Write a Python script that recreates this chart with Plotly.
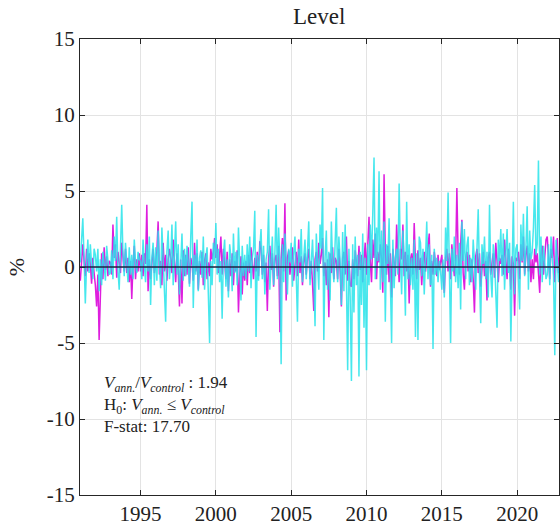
import plotly.graph_objects as go

# ---- data (monthly, Jan 1991 onward) ----
start_year = 1991
magenta = [
    -0.9, 0.8, 1.5, 0.4, -0.6, 1.2, -0.3, 0.9, 0.2, -1.1, 0.6, -0.4,   # 1991
    -1.2, -2.6, -0.5, -4.8, -1.5, 0.9, -0.8, 1.3, -0.2, 0.7, -0.6, 0.4,  # 1992
    0.3, -0.5, 2.8, 0.6, 1.5, -0.7, 1.0, 0.2, -0.4, 1.6, 0.5, -0.3,     # 1993
    1.2, -0.4, 0.6, -1.0, 0.4, -2.1, 0.2, 1.4, -0.8, 0.5, -0.3, 0.9,    # 1994
    -0.3, 0.8, -0.6, 0.9, 0.2, 4.1, -1.6, 0.5, -0.8, 0.3, 1.2, -0.4,    # 1995
    0.2, 1.0, 3.0, -0.5, 0.4, -1.2, 1.6, -0.3, 0.8, -0.9, 0.5, 1.2,     # 1996
    0.6, -0.4, 1.8, 0.3, -1.0, 0.9, -0.2, -2.6, 0.5, -2.4, 1.1, -0.6,   # 1997
    0.8, -0.5, 1.3, -1.1, 0.6, 0.2, -0.9, 1.6, -0.3, 0.9, -1.5, 0.4,    # 1998
    -0.5, 1.0, -1.2, 0.4, 0.9, -0.8, 0.3, -0.6, 1.2, 0.5, 1.0, 1.9,     # 1999
    0.6, 1.5, -0.4, 0.8, 2.0, -0.5, 1.2, 0.3, -0.8, 1.0, -1.6, 0.5,     # 2000
    -0.6, 0.9, -1.2, 0.4, -0.3, 1.1, -3.0, -0.5, 0.7, -1.8, 0.3, -0.9,  # 2001
    0.4, -1.2, 0.8, -0.4, 1.3, 0.2, -0.8, 0.6, -0.3, 1.0, -0.6, 1.7,    # 2002
    1.2, -0.5, 0.8, -1.0, 0.3, -2.9, 0.6, 1.4, -0.2, 0.9, -1.3, 0.5,    # 2003
    0.8, -0.6, 1.4, -4.3, 0.5, 1.9, -0.3, 4.2, -2.2, 0.6, 1.1, -0.5,    # 2004
    0.4, 1.3, -0.9, 0.2, 1.0, -0.6, 1.8, -0.4, 0.7, -1.2, 0.3, 0.9,     # 2005
    -0.5, 0.6, 1.2, -0.8, 0.4, -1.1, -2.9, 0.5, 1.0, -0.3, 1.6, 0.2,    # 2006
    0.8, 1.9, -0.6, 0.3, -1.2, 0.5, -3.3, 0.9, -0.4, 1.3, -0.8, 0.6,    # 2007
    0.4, -0.8, 1.2, -0.3, -2.6, 0.6, 1.0, -0.5, 2.0, -0.9, 0.4, -1.2,   # 2008
    -1.3, 0.5, -0.8, 1.1, 0.3, -0.6, 1.4, -0.2, 0.8, -1.0, 0.5, 1.6,    # 2009
    -0.5, 1.2, 3.3, 0.4, -1.0, 1.8, 0.6, 2.2, -0.8, 1.0, 0.3, 1.5,      # 2010
    0.5, -1.7, 6.1, 0.8, -0.5, 1.4, -1.0, 0.9, -2.0, 1.2, 0.3, -0.6,    # 2011
    2.8, 0.4, -1.0, 1.2, 0.5, 2.8, -0.6, 1.0, -0.3, 0.8, -2.4, 0.5,     # 2012
    0.9, -0.5, 2.9, 0.3, -0.8, 1.1, -0.2, 0.6, -1.2, 0.4, 1.0, -0.3,    # 2013
    0.5, 1.2, 2.2, -1.3, 0.4, -0.5, 1.0, 0.2, -0.6, 0.8, -0.2, 0.3,     # 2014
    0.8, -0.5, -1.7, 0.6, 1.2, -0.3, 0.9, -0.8, 1.5, 0.2, -0.6, 0.4,    # 2015
    5.2, 0.8, -0.5, 1.5, 3.1, -0.4, -1.5, 0.6, 1.0, -0.3, 0.8, -1.0,    # 2016
    0.5, -0.8, -3.0, 0.7, 1.2, -0.4, 0.9, -1.3, 0.3, 1.0, -0.6, 0.4,    # 2017
    -2.2, 0.6, 1.0, -0.5, 0.3, 0.9, -0.7, 1.6, 0.4, -1.0, 0.6, 0.2,     # 2018
    0.8, -0.5, 1.8, 0.3, -0.8, 1.2, 0.5, -1.5, 0.7, 0.2, -3.2, 0.6,     # 2019
    0.4, 1.0, -0.8, 1.5, 0.3, 2.0, -0.5, 0.8, 1.4, -0.3, 0.9, -1.0,     # 2020
    0.5, -0.8, 1.2, 0.3, 0.9, -0.4, -1.7, 0.8, 1.4, -0.5, 0.6, 1.8,     # 2021
    2.0, 0.4, -0.8, 1.2, 0.6, 2.0, -1.0, 0.5, 1.9, -0.4, 0.8, 0.2,      # 2022
]
cyan = [
    0.3, 1.5, 3.2, 0.6, -2.4, 0.2, 1.8, -0.4, 1.5, 0.1, -0.8, 1.2,      # 1991
    0.8, -0.3, 1.2, -1.6, 0.5, -1.2, 1.0, 0.2, -0.9, 1.4, 0.3, -0.5,    # 1992
    -0.4, 1.1, -0.8, 2.0, 0.4, 3.3, -0.2, -1.5, 1.2, 4.1, 0.8, -0.6,    # 1993
    1.6, 0.3, -1.0, 1.3, -0.5, 0.8, -0.8, 1.8, 0.2, -0.4, 1.0, 0.5,     # 1994
    0.4, -0.8, 1.8, 0.2, -1.0, 1.5, -0.3, 2.0, -2.5, 0.6, 1.6, -1.2,    # 1995
    1.3, -0.9, 2.4, 0.2, -1.4, 2.6, 0.5, -0.6, -3.6, 1.0, 2.4, -0.8,    # 1996
    0.3, 2.8, -1.2, 0.8, 3.0, -0.5, 1.5, -1.8, 0.6, 2.2, -0.9, 1.2,     # 1997
    -0.6, 1.4, 0.2, -1.3, 2.0, 4.3, -2.7, 0.8, -0.5, 1.8, -1.6, 0.6,    # 1998
    1.1, -0.7, 2.0, -1.5, 0.6, 1.3, -1.8, -5.0, 0.4, -1.2, 1.6, 0.2,    # 1999
    2.9, -0.5, 1.2, -1.0, 0.4, -3.4, 0.8, 1.8, -1.3, 0.5, -2.0, 1.5,    # 2000
    0.6, -1.6, 2.2, -0.4, 1.0, -1.2, 2.6, 0.3, -2.2, 1.4, -0.6, 0.8,    # 2001
    -0.8, 1.5, -0.3, 2.0, -1.4, 0.6, 1.2, 3.7, -4.6, 0.8, -0.9, 1.3,    # 2002
    2.5, -0.8, 1.4, -1.8, 0.5, 1.0, 3.8, -1.5, 0.4, 2.0, -1.2, 0.8,     # 2003
    4.1, -0.8, 2.6, 0.3, -6.4, 1.5, -1.0, 2.2, 0.5, -1.8, 1.2, 0.3,     # 2004
    1.6, -1.3, 0.8, 2.0, -0.5, -3.6, 1.2, 0.3, 2.5, -1.0, 0.6, 1.8,     # 2005
    -0.8, 1.5, 3.0, -1.2, 0.4, 1.8, -0.5, -3.9, 2.2, 0.6, -1.5, 2.8,    # 2006
    1.2, 5.2, -4.8, 0.6, 2.4, -1.5, 1.0, -2.2, 3.0, 0.2, -1.0, 1.6,     # 2007
    3.9, -1.0, 2.0, 0.4, -2.5, 2.3, -1.6, 2.8, -0.8, -6.8, 1.2, -2.0,   # 2008
    -7.5, 1.5, -3.0, 2.0, -1.2, 0.8, -7.2, 1.0, -2.5, 2.2, -4.0, 0.6,   # 2009
    -6.8, 1.5, -1.2, 2.8, 0.5, 3.5, 7.2, -0.8, 2.6, 0.4, 6.3, -1.5,     # 2010
    2.4, -1.0, 3.0, -3.6, 1.5, 0.2, 3.2, -0.8, -5.0, 1.8, -1.4, 0.6,    # 2011
    1.2, -0.5, 5.5, 0.8, -1.8, 2.4, 0.5, -3.2, 4.3, -0.8, 1.5, -1.2,    # 2012
    0.6, -1.5, 1.8, -4.6, 0.9, -4.8, 2.0, 1.6, -0.6, 1.2, -1.8, 0.5,    # 2013
    3.0, -0.8, 1.5, -1.2, 0.8, -5.4, 1.2, -0.5, 0.6, -1.0, 0.4, -0.3,   # 2014
    -1.5, 0.5, -2.0, 2.6, 0.4, 4.9, -0.6, -5.0, 1.2, -0.3, 2.0, -1.0,   # 2015
    0.8, -1.4, 1.6, -2.8, 3.0, 0.4, 2.5, -0.8, 1.4, 2.0, -1.2, 0.6,     # 2016
    -1.0, 1.8, 0.3, -1.5, 1.2, 3.8, -0.5, -3.7, 1.5, 0.2, 2.0, -0.8,    # 2017
    1.0, -2.0, 4.1, -0.5, -2.0, 1.5, 0.6, -1.2, -4.0, 1.8, 0.4, 2.5,    # 2018
    -0.6, 2.2, -1.5, 0.8, 2.5, -0.4, 1.6, -4.9, 0.5, 4.3, -1.8, 1.2,    # 2019
    1.5, -1.0, -2.8, 2.8, 0.4, 3.5, -0.6, 1.2, 4.0, -1.5, 2.4, 0.5,     # 2020
    1.0, 2.6, 5.4, 0.8, 1.5, 7.0, -0.5, 2.0, -1.0, 1.4, 0.3, -0.8,      # 2021
    -0.5, 1.5, -1.2, 2.0, 0.8, -0.6, -5.8, 1.8, 0.4, -1.0, 0.5, 0.8,    # 2022
]
x_tick_vals = [1995, 2000, 2005, 2010, 2015, 2020]
x_tick_text = ["1995", "2000", "2005", "2010", "2015", "2020"]
y_tick_vals = [-15, -10, -5, 0, 5, 10, 15]
y_tick_text = ["-15", "-10", "-5", "0", "5", "10", "15"]
title_text = "Level"
y_label = "%"
stat_lines = [
    "<i>V</i><sub><i>ann.</i></sub>/<i>V</i><sub><i>control</i></sub> : 1.94",
    "H<sub>0</sub>: <i>V</i><sub><i>ann.</i></sub> ≤ <i>V</i><sub><i>control</i></sub>",
    "F-stat: 17.70",
]

x = [start_year + i / 12 for i in range(len(magenta))]

FONT = "Liberation Serif"
fig = go.Figure()
fig.add_trace(go.Scatter(x=x, y=magenta, mode="lines",
                         line=dict(color="rgb(222,30,222)", width=1.5), showlegend=False))
fig.add_trace(go.Scatter(x=x, y=cyan, mode="lines", opacity=0.85,
                         line=dict(color="rgb(40,228,235)", width=1.5), showlegend=False))

fig.add_shape(type="line", xref="paper", yref="y", x0=0, x1=1, y0=0, y1=0,
              line=dict(color="#1c2440", width=1.6), layer="above")

fig.add_annotation(xref="paper", yref="paper", x=0.045, y=0.272,
                   xanchor="left", yanchor="top", align="left",
                   text="<br>".join(stat_lines), showarrow=False,
                   font=dict(family=FONT, size=17, color="#222"))

axis_common = dict(showline=True, linecolor="#262626", linewidth=1, mirror="ticks",
                   ticks="inside", ticklen=5, tickcolor="#262626",
                   showgrid=True, gridcolor="#e3e3e3", gridwidth=1, zeroline=False,
                   tickfont=dict(family=FONT, size=21, color="#222"))

fig.update_layout(
    width=560, height=530,
    margin=dict(l=80, r=1, t=39, b=35),
    paper_bgcolor="white", plot_bgcolor="white",
    title=dict(text=title_text, x=0.57, xanchor="center", y=0.985, yanchor="top",
               font=dict(family=FONT, size=23, color="#222")),
    xaxis=dict(range=[1990.98, 2022.78], tickvals=x_tick_vals, ticktext=x_tick_text, **axis_common),
    yaxis=dict(range=[-15, 15], tickvals=y_tick_vals, ticktext=y_tick_text,
               title=dict(text=y_label, font=dict(family=FONT, size=22, color="#222"), standoff=16),
               **axis_common),
)

fig.write_html("out.html")
